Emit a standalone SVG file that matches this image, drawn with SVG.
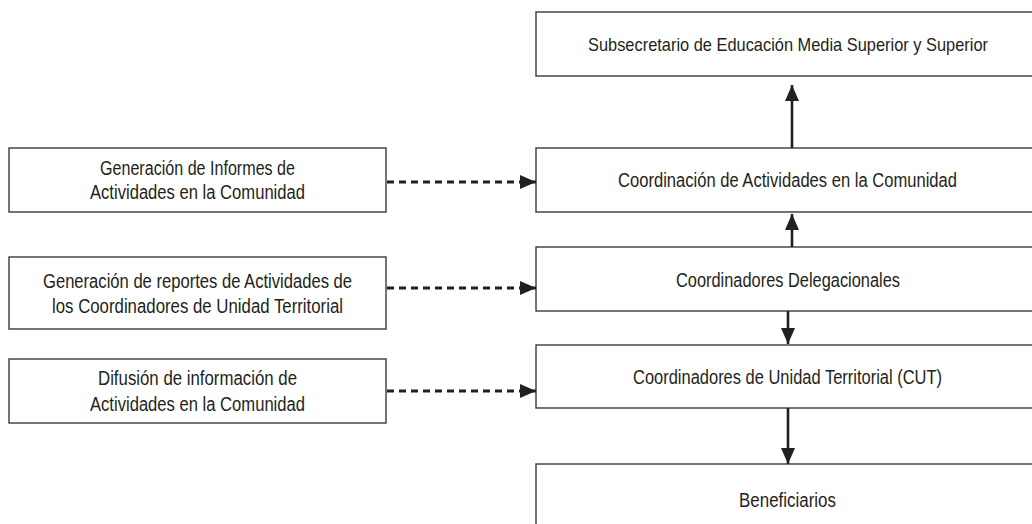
<svg xmlns="http://www.w3.org/2000/svg" width="1032" height="524" viewBox="0 0 1032 524">
<style>
.box{fill:#fff;stroke:#3a3a3a;stroke-width:1.4}
.t{font-family:"Liberation Sans",Arial,sans-serif;font-size:20px;fill:#231f20;text-anchor:middle;dominant-baseline:central}
.solid{stroke:#231f20;stroke-width:2.6;fill:none}
.dash{stroke:#231f20;stroke-width:3;fill:none;stroke-dasharray:7 5}
</style>
<defs>
<marker id="ah" markerUnits="userSpaceOnUse" markerWidth="17" markerHeight="15" refX="16" refY="7.5" orient="auto">
<path d="M0,0.5 L16,7.5 L0,14.5 z" fill="#231f20"/>
</marker>
</defs>
<g id="n-subsecretario"><rect class="box" x="536" y="12" width="504" height="64"/><text class="t" x="788" y="44" style="font-size:19px" textLength="400" lengthAdjust="spacingAndGlyphs">Subsecretario de Educación Media Superior y Superior</text></g>
<g id="n-coordinacion"><rect class="box" x="536" y="148" width="504" height="64"/><text class="t" x="787.5" y="180" textLength="339" lengthAdjust="spacingAndGlyphs">Coordinación de Actividades en la Comunidad</text></g>
<g id="n-delegacionales"><rect class="box" x="536" y="247" width="504" height="64"/><text class="t" x="788" y="280" textLength="224" lengthAdjust="spacingAndGlyphs">Coordinadores Delegacionales</text></g>
<g id="n-cut"><rect class="box" x="536" y="345" width="504" height="63"/><text class="t" x="787.5" y="377" textLength="309" lengthAdjust="spacingAndGlyphs">Coordinadores de Unidad Territorial (CUT)</text></g>
<g id="n-beneficiarios"><rect class="box" x="536" y="464" width="504" height="70"/><text class="t" x="787.5" y="500" textLength="97" lengthAdjust="spacingAndGlyphs">Beneficiarios</text></g>
<g id="n-informes"><rect class="box" x="9" y="148" width="377" height="64"/><text class="t" x="197.5" y="168" textLength="195" lengthAdjust="spacingAndGlyphs">Generación de Informes de</text><text class="t" x="197.5" y="192" textLength="215" lengthAdjust="spacingAndGlyphs">Actividades en la Comunidad</text></g>
<g id="n-reportes"><rect class="box" x="9" y="257" width="377" height="72"/><text class="t" x="197.5" y="281" textLength="309" lengthAdjust="spacingAndGlyphs">Generación de reportes de Actividades de</text><text class="t" x="197.5" y="306" textLength="291" lengthAdjust="spacingAndGlyphs">los Coordinadores de Unidad Territorial</text></g>
<g id="n-difusion"><rect class="box" x="9" y="359" width="377" height="64"/><text class="t" x="197.5" y="378" textLength="199" lengthAdjust="spacingAndGlyphs">Difusión de información de</text><text class="t" x="197.5" y="404" textLength="215" lengthAdjust="spacingAndGlyphs">Actividades en la Comunidad</text></g>
<g id="connectors">
<line class="solid" x1="792" y1="148" x2="792" y2="85" marker-end="url(#ah)"/>
<line class="solid" x1="792" y1="247" x2="792" y2="214" marker-end="url(#ah)"/>
<line class="solid" x1="788" y1="311" x2="788" y2="344" marker-end="url(#ah)"/>
<line class="solid" x1="788" y1="408" x2="788" y2="464" marker-end="url(#ah)"/>
<line class="dash" x1="387" y1="182" x2="536" y2="182" marker-end="url(#ah)"/>
<line class="dash" x1="387" y1="288" x2="536" y2="288" marker-end="url(#ah)"/>
<line class="dash" x1="387" y1="391" x2="536" y2="391" marker-end="url(#ah)"/>
</g>
</svg>
